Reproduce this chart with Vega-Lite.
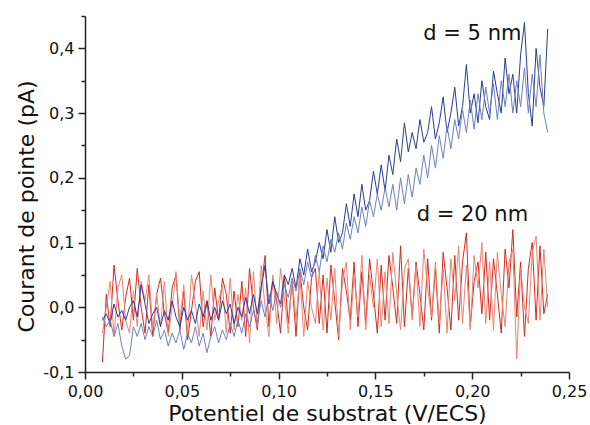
{
"$schema":"https://vega.github.io/schema/vega-lite/v6.json",
"autosize":{"type":"none"},
"padding":{"left":85,"top":16,"right":21,"bottom":53},
"width":484,"height":356,
"config":{"view":{"stroke":null},"font":"DejaVu Sans"},
"data":{"values":[
{"s":"r1","x":0.009,"y":-0.085},{"s":"r1","x":0.011,"y":0.02},{"s":"r1","x":0.013,"y":-0.03},{"s":"r1","x":0.015,"y":0.065},{"s":"r1","x":0.017,"y":0.01},
{"s":"r1","x":0.019,"y":-0.035},{"s":"r1","x":0.021,"y":0.015},{"s":"r1","x":0.023,"y":0.045},{"s":"r1","x":0.025,"y":-0.02},{"s":"r1","x":0.027,"y":0.06},
{"s":"r1","x":0.029,"y":0.0},{"s":"r1","x":0.031,"y":-0.04},{"s":"r1","x":0.033,"y":0.035},{"s":"r1","x":0.035,"y":-0.045},{"s":"r1","x":0.037,"y":0.02},
{"s":"r1","x":0.039,"y":0.045},{"s":"r1","x":0.041,"y":-0.01},{"s":"r1","x":0.043,"y":-0.04},{"s":"r1","x":0.045,"y":0.03},{"s":"r1","x":0.047,"y":0.05},
{"s":"r1","x":0.049,"y":-0.035},{"s":"r1","x":0.051,"y":0.025},{"s":"r1","x":0.053,"y":-0.05},{"s":"r1","x":0.055,"y":-0.005},{"s":"r1","x":0.057,"y":0.04},
{"s":"r1","x":0.059,"y":0.055},{"s":"r1","x":0.061,"y":-0.03},{"s":"r1","x":0.063,"y":0.01},{"s":"r1","x":0.065,"y":-0.045},{"s":"r1","x":0.067,"y":0.03},
{"s":"r1","x":0.069,"y":-0.02},{"s":"r1","x":0.071,"y":0.045},{"s":"r1","x":0.073,"y":0.02},{"s":"r1","x":0.075,"y":-0.04},{"s":"r1","x":0.077,"y":0.025},
{"s":"r1","x":0.079,"y":-0.03},{"s":"r1","x":0.081,"y":0.04},{"s":"r1","x":0.083,"y":-0.045},{"s":"r1","x":0.085,"y":0.06},{"s":"r1","x":0.087,"y":0.0},
{"s":"r1","x":0.089,"y":-0.035},{"s":"r1","x":0.091,"y":0.03},{"s":"r1","x":0.093,"y":0.08},{"s":"r1","x":0.095,"y":-0.03},{"s":"r1","x":0.097,"y":0.045},
{"s":"r1","x":0.099,"y":0.01},{"s":"r1","x":0.101,"y":-0.04},{"s":"r1","x":0.103,"y":0.05},{"s":"r1","x":0.105,"y":-0.025},{"s":"r1","x":0.107,"y":0.04},
{"s":"r1","x":0.109,"y":-0.045},{"s":"r1","x":0.111,"y":0.055},{"s":"r1","x":0.113,"y":0.0},{"s":"r1","x":0.115,"y":-0.035},{"s":"r1","x":0.117,"y":0.045},
{"s":"r1","x":0.119,"y":0.06},{"s":"r1","x":0.121,"y":-0.025},{"s":"r1","x":0.123,"y":0.05},{"s":"r1","x":0.125,"y":-0.04},{"s":"r1","x":0.127,"y":0.065},
{"s":"r1","x":0.129,"y":0.01},{"s":"r1","x":0.131,"y":-0.05},{"s":"r1","x":0.133,"y":0.06},{"s":"r1","x":0.135,"y":0.025},{"s":"r1","x":0.137,"y":-0.02},
{"s":"r1","x":0.139,"y":0.07},{"s":"r1","x":0.141,"y":-0.03},{"s":"r1","x":0.143,"y":0.055},{"s":"r1","x":0.145,"y":-0.025},{"s":"r1","x":0.147,"y":0.075},
{"s":"r1","x":0.149,"y":0.02},{"s":"r1","x":0.151,"y":-0.04},{"s":"r1","x":0.153,"y":0.065},{"s":"r1","x":0.155,"y":-0.02},{"s":"r1","x":0.157,"y":0.08},
{"s":"r1","x":0.159,"y":0.03},{"s":"r1","x":0.161,"y":-0.025},{"s":"r1","x":0.163,"y":0.095},{"s":"r1","x":0.165,"y":-0.03},{"s":"r1","x":0.167,"y":0.06},
{"s":"r1","x":0.169,"y":-0.015},{"s":"r1","x":0.171,"y":0.07},{"s":"r1","x":0.173,"y":0.02},{"s":"r1","x":0.175,"y":-0.035},{"s":"r1","x":0.177,"y":0.075},
{"s":"r1","x":0.179,"y":-0.02},{"s":"r1","x":0.181,"y":0.06},{"s":"r1","x":0.183,"y":-0.04},{"s":"r1","x":0.185,"y":0.085},{"s":"r1","x":0.187,"y":0.03},
{"s":"r1","x":0.189,"y":-0.035},{"s":"r1","x":0.191,"y":0.08},{"s":"r1","x":0.193,"y":-0.02},{"s":"r1","x":0.195,"y":0.07},{"s":"r1","x":0.197,"y":0.115},
{"s":"r1","x":0.199,"y":-0.03},{"s":"r1","x":0.201,"y":0.04},{"s":"r1","x":0.203,"y":0.07},{"s":"r1","x":0.205,"y":-0.01},{"s":"r1","x":0.207,"y":0.085},
{"s":"r1","x":0.209,"y":-0.02},{"s":"r1","x":0.211,"y":0.075},{"s":"r1","x":0.213,"y":0.02},{"s":"r1","x":0.215,"y":-0.04},{"s":"r1","x":0.217,"y":0.09},
{"s":"r1","x":0.219,"y":0.03},{"s":"r1","x":0.221,"y":0.12},{"s":"r1","x":0.223,"y":-0.015},{"s":"r1","x":0.225,"y":0.07},{"s":"r1","x":0.227,"y":-0.045},
{"s":"r1","x":0.229,"y":0.06},{"s":"r1","x":0.231,"y":0.1},{"s":"r1","x":0.233,"y":-0.02},{"s":"r1","x":0.235,"y":0.095},{"s":"r1","x":0.237,"y":-0.01},
{"s":"r1","x":0.239,"y":0.02},
{"s":"r2","x":0.009,"y":-0.04},{"s":"r2","x":0.011,"y":0.0},{"s":"r2","x":0.013,"y":0.04},{"s":"r2","x":0.015,"y":-0.045},{"s":"r2","x":0.017,"y":0.03},
{"s":"r2","x":0.019,"y":0.05},{"s":"r2","x":0.021,"y":-0.02},{"s":"r2","x":0.023,"y":-0.04},{"s":"r2","x":0.025,"y":0.025},{"s":"r2","x":0.027,"y":-0.03},
{"s":"r2","x":0.029,"y":0.04},{"s":"r2","x":0.031,"y":0.01},{"s":"r2","x":0.033,"y":0.05},{"s":"r2","x":0.035,"y":-0.035},{"s":"r2","x":0.037,"y":0.02},
{"s":"r2","x":0.039,"y":-0.03},{"s":"r2","x":0.041,"y":0.04},{"s":"r2","x":0.043,"y":-0.045},{"s":"r2","x":0.045,"y":0.0},{"s":"r2","x":0.047,"y":0.055},
{"s":"r2","x":0.049,"y":-0.025},{"s":"r2","x":0.051,"y":0.035},{"s":"r2","x":0.053,"y":-0.04},{"s":"r2","x":0.055,"y":0.05},{"s":"r2","x":0.057,"y":0.005},
{"s":"r2","x":0.059,"y":-0.045},{"s":"r2","x":0.061,"y":0.025},{"s":"r2","x":0.063,"y":-0.035},{"s":"r2","x":0.065,"y":0.05},{"s":"r2","x":0.067,"y":-0.02},
{"s":"r2","x":0.069,"y":0.01},{"s":"r2","x":0.071,"y":0.035},{"s":"r2","x":0.073,"y":-0.04},{"s":"r2","x":0.075,"y":0.045},{"s":"r2","x":0.077,"y":-0.035},
{"s":"r2","x":0.079,"y":0.02},{"s":"r2","x":0.081,"y":-0.02},{"s":"r2","x":0.083,"y":0.03},{"s":"r2","x":0.085,"y":-0.055},{"s":"r2","x":0.087,"y":0.055},
{"s":"r2","x":0.089,"y":-0.03},{"s":"r2","x":0.091,"y":0.065},{"s":"r2","x":0.093,"y":0.0},{"s":"r2","x":0.095,"y":-0.045},{"s":"r2","x":0.097,"y":0.05},
{"s":"r2","x":0.099,"y":-0.025},{"s":"r2","x":0.101,"y":0.06},{"s":"r2","x":0.103,"y":0.015},{"s":"r2","x":0.105,"y":-0.04},{"s":"r2","x":0.107,"y":0.045},
{"s":"r2","x":0.109,"y":-0.02},{"s":"r2","x":0.111,"y":0.05},{"s":"r2","x":0.113,"y":-0.045},{"s":"r2","x":0.115,"y":0.04},{"s":"r2","x":0.117,"y":0.0},
{"s":"r2","x":0.119,"y":-0.025},{"s":"r2","x":0.121,"y":0.055},{"s":"r2","x":0.123,"y":-0.035},{"s":"r2","x":0.125,"y":0.045},{"s":"r2","x":0.127,"y":-0.02},
{"s":"r2","x":0.129,"y":0.06},{"s":"r2","x":0.131,"y":-0.045},{"s":"r2","x":0.133,"y":0.04},{"s":"r2","x":0.135,"y":0.07},{"s":"r2","x":0.137,"y":-0.035},
{"s":"r2","x":0.139,"y":0.05},{"s":"r2","x":0.141,"y":-0.015},{"s":"r2","x":0.143,"y":0.08},{"s":"r2","x":0.145,"y":-0.035},{"s":"r2","x":0.147,"y":0.05},
{"s":"r2","x":0.149,"y":0.0},{"s":"r2","x":0.151,"y":0.075},{"s":"r2","x":0.153,"y":-0.03},{"s":"r2","x":0.155,"y":0.055},{"s":"r2","x":0.157,"y":-0.025},
{"s":"r2","x":0.159,"y":0.085},{"s":"r2","x":0.161,"y":0.02},{"s":"r2","x":0.163,"y":-0.035},{"s":"r2","x":0.165,"y":0.06},{"s":"r2","x":0.167,"y":0.075},
{"s":"r2","x":0.169,"y":-0.02},{"s":"r2","x":0.171,"y":0.065},{"s":"r2","x":0.173,"y":-0.03},{"s":"r2","x":0.175,"y":0.09},{"s":"r2","x":0.177,"y":0.03},
{"s":"r2","x":0.179,"y":-0.015},{"s":"r2","x":0.181,"y":0.07},{"s":"r2","x":0.183,"y":-0.025},{"s":"r2","x":0.185,"y":0.06},{"s":"r2","x":0.187,"y":-0.04},
{"s":"r2","x":0.189,"y":0.075},{"s":"r2","x":0.191,"y":0.01},{"s":"r2","x":0.193,"y":0.095},{"s":"r2","x":0.195,"y":-0.025},{"s":"r2","x":0.197,"y":0.065},
{"s":"r2","x":0.199,"y":-0.035},{"s":"r2","x":0.201,"y":0.08},{"s":"r2","x":0.203,"y":0.03},{"s":"r2","x":0.205,"y":0.1},{"s":"r2","x":0.207,"y":-0.025},
{"s":"r2","x":0.209,"y":0.07},{"s":"r2","x":0.211,"y":-0.035},{"s":"r2","x":0.213,"y":0.085},{"s":"r2","x":0.215,"y":0.02},{"s":"r2","x":0.217,"y":-0.03},
{"s":"r2","x":0.219,"y":0.07},{"s":"r2","x":0.221,"y":0.09},{"s":"r2","x":0.223,"y":-0.08},{"s":"r2","x":0.225,"y":0.06},{"s":"r2","x":0.227,"y":0.0},
{"s":"r2","x":0.229,"y":-0.025},{"s":"r2","x":0.231,"y":0.085},{"s":"r2","x":0.233,"y":0.11},{"s":"r2","x":0.235,"y":-0.02},{"s":"r2","x":0.237,"y":0.09},
{"s":"r2","x":0.239,"y":0.0},
{"s":"b1","x":0.009,"y":-0.02},{"s":"b1","x":0.011,"y":-0.01},{"s":"b1","x":0.013,"y":-0.025},{"s":"b1","x":0.015,"y":0.005},{"s":"b1","x":0.017,"y":-0.015},
{"s":"b1","x":0.019,"y":-0.005},{"s":"b1","x":0.021,"y":-0.02},{"s":"b1","x":0.023,"y":0.0},{"s":"b1","x":0.025,"y":0.01},{"s":"b1","x":0.027,"y":-0.015},
{"s":"b1","x":0.029,"y":0.035},{"s":"b1","x":0.031,"y":0.005},{"s":"b1","x":0.033,"y":-0.025},{"s":"b1","x":0.035,"y":-0.01},{"s":"b1","x":0.037,"y":0.0},
{"s":"b1","x":0.039,"y":-0.03},{"s":"b1","x":0.041,"y":-0.005},{"s":"b1","x":0.043,"y":-0.02},{"s":"b1","x":0.045,"y":0.01},{"s":"b1","x":0.047,"y":-0.015},
{"s":"b1","x":0.049,"y":-0.03},{"s":"b1","x":0.051,"y":0.0},{"s":"b1","x":0.053,"y":-0.02},{"s":"b1","x":0.055,"y":-0.005},{"s":"b1","x":0.057,"y":-0.025},
{"s":"b1","x":0.059,"y":0.005},{"s":"b1","x":0.061,"y":-0.015},{"s":"b1","x":0.063,"y":0.01},{"s":"b1","x":0.065,"y":-0.02},{"s":"b1","x":0.067,"y":0.0},
{"s":"b1","x":0.069,"y":-0.02},{"s":"b1","x":0.071,"y":0.01},{"s":"b1","x":0.073,"y":-0.01},{"s":"b1","x":0.075,"y":0.005},{"s":"b1","x":0.077,"y":-0.025},
{"s":"b1","x":0.079,"y":0.0},{"s":"b1","x":0.081,"y":-0.015},{"s":"b1","x":0.083,"y":0.015},{"s":"b1","x":0.085,"y":-0.01},{"s":"b1","x":0.087,"y":0.02},
{"s":"b1","x":0.089,"y":-0.01},{"s":"b1","x":0.091,"y":0.03},{"s":"b1","x":0.093,"y":0.065},{"s":"b1","x":0.095,"y":0.005},{"s":"b1","x":0.097,"y":0.04},
{"s":"b1","x":0.099,"y":0.02},{"s":"b1","x":0.101,"y":0.005},{"s":"b1","x":0.103,"y":0.05},{"s":"b1","x":0.105,"y":0.035},{"s":"b1","x":0.107,"y":0.06},
{"s":"b1","x":0.109,"y":0.03},{"s":"b1","x":0.111,"y":0.075},{"s":"b1","x":0.113,"y":0.05},{"s":"b1","x":0.115,"y":0.09},{"s":"b1","x":0.117,"y":0.055},
{"s":"b1","x":0.119,"y":0.07},{"s":"b1","x":0.121,"y":0.1},{"s":"b1","x":0.123,"y":0.075},{"s":"b1","x":0.125,"y":0.12},{"s":"b1","x":0.127,"y":0.085},
{"s":"b1","x":0.129,"y":0.14},{"s":"b1","x":0.131,"y":0.1},{"s":"b1","x":0.133,"y":0.115},{"s":"b1","x":0.135,"y":0.16},{"s":"b1","x":0.137,"y":0.125},
{"s":"b1","x":0.139,"y":0.175},{"s":"b1","x":0.141,"y":0.14},{"s":"b1","x":0.143,"y":0.19},{"s":"b1","x":0.145,"y":0.15},{"s":"b1","x":0.147,"y":0.165},
{"s":"b1","x":0.149,"y":0.21},{"s":"b1","x":0.151,"y":0.175},{"s":"b1","x":0.153,"y":0.22},{"s":"b1","x":0.155,"y":0.18},{"s":"b1","x":0.157,"y":0.235},
{"s":"b1","x":0.159,"y":0.205},{"s":"b1","x":0.161,"y":0.26},{"s":"b1","x":0.163,"y":0.225},{"s":"b1","x":0.165,"y":0.285},{"s":"b1","x":0.167,"y":0.24},
{"s":"b1","x":0.169,"y":0.27},{"s":"b1","x":0.171,"y":0.245},{"s":"b1","x":0.173,"y":0.29},{"s":"b1","x":0.175,"y":0.255},{"s":"b1","x":0.177,"y":0.27},
{"s":"b1","x":0.179,"y":0.31},{"s":"b1","x":0.181,"y":0.26},{"s":"b1","x":0.183,"y":0.285},{"s":"b1","x":0.185,"y":0.325},{"s":"b1","x":0.187,"y":0.27},
{"s":"b1","x":0.189,"y":0.3},{"s":"b1","x":0.191,"y":0.34},{"s":"b1","x":0.193,"y":0.28},{"s":"b1","x":0.195,"y":0.31},{"s":"b1","x":0.197,"y":0.375},
{"s":"b1","x":0.199,"y":0.3},{"s":"b1","x":0.201,"y":0.33},{"s":"b1","x":0.203,"y":0.285},{"s":"b1","x":0.205,"y":0.35},{"s":"b1","x":0.207,"y":0.31},
{"s":"b1","x":0.209,"y":0.29},{"s":"b1","x":0.211,"y":0.365},{"s":"b1","x":0.213,"y":0.33},{"s":"b1","x":0.215,"y":0.3},{"s":"b1","x":0.217,"y":0.385},
{"s":"b1","x":0.219,"y":0.33},{"s":"b1","x":0.221,"y":0.36},{"s":"b1","x":0.223,"y":0.3},{"s":"b1","x":0.225,"y":0.39},{"s":"b1","x":0.227,"y":0.44},
{"s":"b1","x":0.229,"y":0.33},{"s":"b1","x":0.231,"y":0.28},{"s":"b1","x":0.233,"y":0.4},{"s":"b1","x":0.235,"y":0.34},{"s":"b1","x":0.237,"y":0.31},
{"s":"b1","x":0.239,"y":0.43},
{"s":"b2","x":0.009,"y":-0.015},{"s":"b2","x":0.011,"y":-0.03},{"s":"b2","x":0.013,"y":-0.02},{"s":"b2","x":0.015,"y":-0.045},{"s":"b2","x":0.017,"y":-0.025},
{"s":"b2","x":0.019,"y":-0.06},{"s":"b2","x":0.021,"y":-0.08},{"s":"b2","x":0.023,"y":-0.075},{"s":"b2","x":0.025,"y":-0.03},{"s":"b2","x":0.027,"y":-0.045},
{"s":"b2","x":0.029,"y":-0.025},{"s":"b2","x":0.031,"y":-0.05},{"s":"b2","x":0.033,"y":-0.03},{"s":"b2","x":0.035,"y":-0.045},{"s":"b2","x":0.037,"y":-0.02},
{"s":"b2","x":0.039,"y":-0.05},{"s":"b2","x":0.041,"y":-0.035},{"s":"b2","x":0.043,"y":-0.06},{"s":"b2","x":0.045,"y":-0.04},{"s":"b2","x":0.047,"y":-0.055},
{"s":"b2","x":0.049,"y":-0.035},{"s":"b2","x":0.051,"y":-0.065},{"s":"b2","x":0.053,"y":-0.04},{"s":"b2","x":0.055,"y":-0.055},{"s":"b2","x":0.057,"y":-0.03},
{"s":"b2","x":0.059,"y":-0.06},{"s":"b2","x":0.061,"y":-0.04},{"s":"b2","x":0.063,"y":-0.07},{"s":"b2","x":0.065,"y":-0.045},{"s":"b2","x":0.067,"y":-0.03},
{"s":"b2","x":0.069,"y":-0.055},{"s":"b2","x":0.071,"y":-0.035},{"s":"b2","x":0.073,"y":-0.05},{"s":"b2","x":0.075,"y":-0.025},{"s":"b2","x":0.077,"y":-0.045},
{"s":"b2","x":0.079,"y":-0.02},{"s":"b2","x":0.081,"y":-0.04},{"s":"b2","x":0.083,"y":-0.01},{"s":"b2","x":0.085,"y":-0.03},{"s":"b2","x":0.087,"y":-0.005},
{"s":"b2","x":0.089,"y":-0.025},{"s":"b2","x":0.091,"y":0.01},{"s":"b2","x":0.093,"y":-0.015},{"s":"b2","x":0.095,"y":0.02},{"s":"b2","x":0.097,"y":-0.005},
{"s":"b2","x":0.099,"y":0.025},{"s":"b2","x":0.101,"y":0.0},{"s":"b2","x":0.103,"y":0.035},{"s":"b2","x":0.105,"y":0.015},{"s":"b2","x":0.107,"y":0.045},
{"s":"b2","x":0.109,"y":0.025},{"s":"b2","x":0.111,"y":0.06},{"s":"b2","x":0.113,"y":0.035},{"s":"b2","x":0.115,"y":0.07},{"s":"b2","x":0.117,"y":0.045},
{"s":"b2","x":0.119,"y":0.08},{"s":"b2","x":0.121,"y":0.055},{"s":"b2","x":0.123,"y":0.095},{"s":"b2","x":0.125,"y":0.07},{"s":"b2","x":0.127,"y":0.105},
{"s":"b2","x":0.129,"y":0.085},{"s":"b2","x":0.131,"y":0.115},{"s":"b2","x":0.133,"y":0.09},{"s":"b2","x":0.135,"y":0.13},{"s":"b2","x":0.137,"y":0.105},
{"s":"b2","x":0.139,"y":0.14},{"s":"b2","x":0.141,"y":0.115},{"s":"b2","x":0.143,"y":0.155},{"s":"b2","x":0.145,"y":0.125},{"s":"b2","x":0.147,"y":0.165},
{"s":"b2","x":0.149,"y":0.14},{"s":"b2","x":0.151,"y":0.175},{"s":"b2","x":0.153,"y":0.15},{"s":"b2","x":0.155,"y":0.185},{"s":"b2","x":0.157,"y":0.155},
{"s":"b2","x":0.159,"y":0.19},{"s":"b2","x":0.161,"y":0.15},{"s":"b2","x":0.163,"y":0.2},{"s":"b2","x":0.165,"y":0.16},{"s":"b2","x":0.167,"y":0.205},
{"s":"b2","x":0.169,"y":0.17},{"s":"b2","x":0.171,"y":0.215},{"s":"b2","x":0.173,"y":0.19},{"s":"b2","x":0.175,"y":0.235},{"s":"b2","x":0.177,"y":0.2},
{"s":"b2","x":0.179,"y":0.25},{"s":"b2","x":0.181,"y":0.215},{"s":"b2","x":0.183,"y":0.265},{"s":"b2","x":0.185,"y":0.23},{"s":"b2","x":0.187,"y":0.28},
{"s":"b2","x":0.189,"y":0.245},{"s":"b2","x":0.191,"y":0.29},{"s":"b2","x":0.193,"y":0.26},{"s":"b2","x":0.195,"y":0.305},{"s":"b2","x":0.197,"y":0.27},
{"s":"b2","x":0.199,"y":0.32},{"s":"b2","x":0.201,"y":0.275},{"s":"b2","x":0.203,"y":0.33},{"s":"b2","x":0.205,"y":0.29},{"s":"b2","x":0.207,"y":0.34},
{"s":"b2","x":0.209,"y":0.3},{"s":"b2","x":0.211,"y":0.345},{"s":"b2","x":0.213,"y":0.29},{"s":"b2","x":0.215,"y":0.35},{"s":"b2","x":0.217,"y":0.31},
{"s":"b2","x":0.219,"y":0.36},{"s":"b2","x":0.221,"y":0.3},{"s":"b2","x":0.223,"y":0.35},{"s":"b2","x":0.225,"y":0.31},{"s":"b2","x":0.227,"y":0.37},
{"s":"b2","x":0.229,"y":0.3},{"s":"b2","x":0.231,"y":0.36},{"s":"b2","x":0.233,"y":0.31},{"s":"b2","x":0.235,"y":0.39},{"s":"b2","x":0.237,"y":0.3},
{"s":"b2","x":0.239,"y":0.27}
]},
"resolve":{"axis":{"x":"independent","y":"independent"}},
"layer":[
{"transform":[{"filter":{"field":"s","oneOf":["r2","r1"]}}],
 "mark":{"type":"line","strokeWidth":1},
 "encoding":{
  "x":{"field":"x","type":"quantitative","scale":{"domain":[0,0.25],"nice":false,"zero":false},
   "axis":{"orient":"bottom","values":[0,0.05,0.1,0.15,0.2,0.25],"labelExpr":"replace(format(datum.value,'.2f'),'.',',')","grid":false,"tickSize":7,"tickWidth":1.5,"tickColor":"#222","domainColor":"#222","domainWidth":1.5,"labelFont":"DejaVu Sans","labelFontSize":16,"labelColor":"#111","labelPadding":4,"labelFlush":false,"labelOverlap":false,
    "title":"Potentiel de substrat (V/ECS)","titleFont":"DejaVu Sans","titleFontSize":22,"titleFontWeight":"normal","titleColor":"#111","titleX":242,"titleY":48,"titleAlign":"center","titleBaseline":"alphabetic"}},
  "y":{"field":"y","type":"quantitative","scale":{"domain":[-0.1,0.45],"nice":false,"zero":false},
   "axis":{"orient":"left","values":[-0.1,0,0.1,0.2,0.3,0.4],"labelExpr":"replace(replace(format(datum.value,'.1f'),'.',','),'\u2212','-')","grid":false,"tickSize":7,"tickWidth":1.5,"tickColor":"#222","domainColor":"#222","domainWidth":1.5,"labelFont":"DejaVu Sans","labelFontSize":16,"labelColor":"#111","labelPadding":4,"labelFlush":false,"labelOverlap":false,
    "title":"Courant de pointe (pA)","titleFont":"DejaVu Sans","titleFontSize":22,"titleFontWeight":"normal","titleColor":"#111","titleX":-52,"titleY":190,"titleAngle":270,"titleAlign":"center","titleBaseline":"alphabetic"}},
  "color":{"field":"s","type":"nominal","scale":{"domain":["r1","r2","b1","b2"],"range":["#d42a1e","#ec8576","#2b3c97","#6f7fc2"]},"legend":null}
 }},
{"transform":[{"filter":{"field":"s","oneOf":["b2","b1"]}}],
 "mark":{"type":"line","strokeWidth":1},
 "encoding":{
  "x":{"field":"x","type":"quantitative","axis":null},
  "y":{"field":"y","type":"quantitative","axis":null},
  "color":{"field":"s","type":"nominal","legend":null}
 }},
{"data":{"values":[{"label":"d = 5 nm","x":0.2001,"y":0.4125},{"label":"d = 20 nm","x":0.2001,"y":0.1329}]},
 "mark":{"type":"text","font":"DejaVu Sans","fontSize":21,"align":"center","baseline":"alphabetic","color":"#111"},
 "encoding":{
  "x":{"field":"x","type":"quantitative","axis":{"orient":"bottom","values":[0.025,0.075,0.125,0.175,0.225],"labels":false,"domain":false,"grid":false,"tickSize":4,"tickWidth":1.5,"tickColor":"#222","title":null}},
  "y":{"field":"y","type":"quantitative","axis":{"orient":"left","values":[-0.05,0.05,0.15,0.25,0.35,0.45],"labels":false,"domain":false,"grid":false,"tickSize":4,"tickWidth":1.5,"tickColor":"#222","title":null}},
  "text":{"field":"label"}
 }}
]
}
